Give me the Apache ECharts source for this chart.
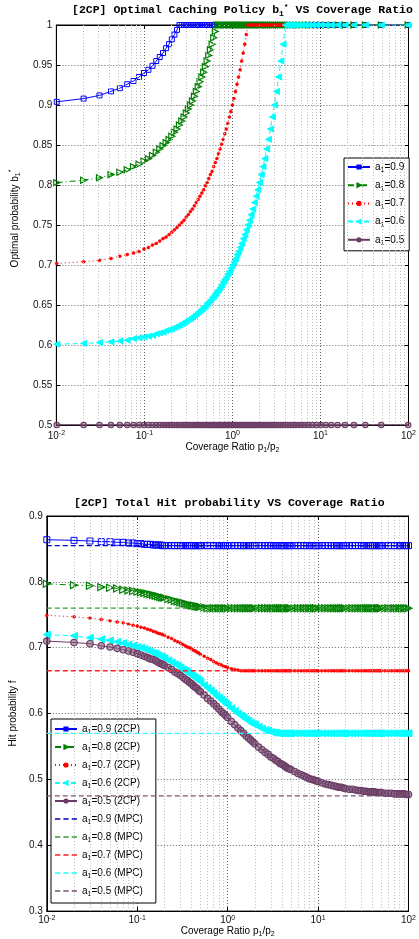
<!DOCTYPE html>
<html><head><meta charset="utf-8">
<script src="https://cdn.jsdelivr.net/npm/echarts@6/dist/echarts.min.js"></script>
<style>html,body{margin:0;padding:0;background:#fff}#c{width:419px;height:939px}</style>
</head><body><div id="c"></div>
<script>
// ---- Top plot: coverage ratio sample points ----
const xs = [0.0101,0.0204,0.0309,0.0417,0.0526,0.0638,0.0753,0.0870,0.0989,0.1111,
0.1236,0.1364,0.1494,0.1628,0.1765,0.1905,0.2048,0.2195,0.2346,0.25,
0.2658,0.2821,0.2987,0.3158,0.3333,0.3514,0.3699,0.3889,0.4085,0.4286,
0.4493,0.4706,0.4925,0.5152,0.5385,0.5625,0.5873,0.6129,0.6393,0.6667,
0.6949,0.7241,0.7544,0.7857,0.8182,0.8519,0.8868,0.9231,0.9608,1,
1.0408,1.0833,1.1277,1.1739,1.2222,1.2727,1.3256,1.381,1.439,1.5,
1.5641,1.6316,1.7027,1.7778,1.8571,1.9412,2.0303,2.125,2.2258,2.3333,
2.4483,2.5714,2.7037,2.8462,3,3.1667,3.3478,3.5455,3.7619,4,
4.2632,4.5556,4.8824,5.25,5.6667,6.1429,6.6923,7.3333,8.0909,9,
10.111,11.5,13.286,15.667,19,24,32.333,49,99];

// Top: optimal probability b1*
const b09 = [0.904,0.908,0.912,0.917,0.921,0.926,0.930,0.935,0.940,0.944,
0.949,0.955,0.960,0.965,0.971,0.976,0.982,0.988,0.994,1,
1,1,1,1,1,1,1,1,1,1, 1,1,1,1,1,1,1,1,1,1, 1,1,1,1,1,1,1,1,1,1,
1,1,1,1,1,1,1,1,1,1, 1,1,1,1,1,1,1,1,1,1, 1,1,1,1,1,1,1,1,1,1,
1,1,1,1,1,1,1,1,1,1, 1,1,1,1,1,1,1,1,1];
const b08 = [0.803,0.806,0.809,0.813,0.816,0.819,0.823,0.826,0.830,0.833,
0.837,0.841,0.845,0.849,0.853,0.857,0.861,0.866,0.870,0.875,
0.880,0.885,0.890,0.895,0.900,0.905,0.911,0.917,0.923,0.929,
0.935,0.941,0.948,0.955,0.962,0.969,0.976,0.984,0.992,1,
1,1,1,1,1,1,1,1,1,1, 1,1,1,1,1,1,1,1,1,1, 1,1,1,1,1,1,1,1,1,1,
1,1,1,1,1,1,1,1,1,1, 1,1,1,1,1,1,1,1,1,1, 1,1,1,1,1,1,1,1,1];
const b07 = [0.702,0.704,0.706,0.708,0.711,0.713,0.715,0.717,0.720,0.722,
0.725,0.727,0.730,0.733,0.735,0.738,0.741,0.744,0.747,0.750,
0.753,0.756,0.760,0.763,0.767,0.770,0.774,0.778,0.782,0.786,
0.790,0.794,0.799,0.803,0.808,0.813,0.817,0.823,0.828,0.833,
0.839,0.845,0.851,0.857,0.864,0.870,0.877,0.885,0.892,0.900,
0.908,0.917,0.926,0.935,0.944,0.955,0.965,0.976,0.988,1,
1,1,1,1,1,1,1,1,1,1, 1,1,1,1,1,1,1,1,1,1, 1,1,1,1,1,1,1,1,1,1, 1,1,1,1,1,1,1,1,1];
const b06 = [0.601,0.602,0.603,0.604,0.605,0.606,0.608,0.609,0.610,0.611,
0.612,0.614,0.615,0.616,0.618,0.619,0.620,0.622,0.623,0.625,
0.627,0.628,0.630,0.632,0.633,0.635,0.637,0.639,0.641,0.643,
0.645,0.647,0.649,0.652,0.654,0.656,0.659,0.661,0.664,0.667,
0.669,0.672,0.675,0.679,0.682,0.685,0.689,0.692,0.696,0.700,
0.704,0.708,0.713,0.717,0.722,0.727,0.733,0.738,0.744,0.750,
0.756,0.763,0.770,0.778,0.786,0.794,0.803,0.813,0.823,0.833,
0.845,0.857,0.870,0.885,0.900,0.917,0.935,0.955,0.976,1,
1,1,1,1,1,1,1,1,1,1, 1,1,1,1,1,1,1,1,1];
const b05 = [0.5,0.5,0.5,0.5,0.5,0.5,0.5,0.5,0.5,0.5, 0.5,0.5,0.5,0.5,0.5,0.5,0.5,0.5,0.5,0.5,
0.5,0.5,0.5,0.5,0.5,0.5,0.5,0.5,0.5,0.5, 0.5,0.5,0.5,0.5,0.5,0.5,0.5,0.5,0.5,0.5,
0.5,0.5,0.5,0.5,0.5,0.5,0.5,0.5,0.5,0.5, 0.5,0.5,0.5,0.5,0.5,0.5,0.5,0.5,0.5,0.5,
0.5,0.5,0.5,0.5,0.5,0.5,0.5,0.5,0.5,0.5, 0.5,0.5,0.5,0.5,0.5,0.5,0.5,0.5,0.5,0.5,
0.5,0.5,0.5,0.5,0.5,0.5,0.5,0.5,0.5,0.5, 0.5,0.5,0.5,0.5,0.5,0.5,0.5,0.5,0.5];

// ---- Bottom plot: coverage ratio sample points ----
const xs2 = [0.01,0.02,0.03,0.04,0.05,0.06,0.07,0.08,0.09,0.10,0.11,0.12,0.13,0.14,0.15,0.16,0.17,0.18,0.19,0.20,
0.22,0.24,0.26,0.28,0.30,0.32,0.34,0.36,0.38,0.40,0.42,0.44,0.46,0.48,0.50,
0.55,0.60,0.65,0.70,0.75,0.80,0.85,0.90,0.95,1.00,
1.1,1.2,1.3,1.4,1.5,1.6,1.7,1.8,1.9,2.0,
2.2,2.4,2.6,2.8,3.0,3.2,3.4,3.6,3.8,4.0,4.2,4.4,4.6,4.8,5.0,
5.5,6,6.5,7,7.5,8,8.5,9,9.5,10,
11,12,13,14,15,16,17,18,19,20,
22,24,26,28,30,32,34,36,38,40,42,44,46,48,50,
55,60,65,70,75,80,85,90,95,100];

// Bottom: total hit probability (2CP)
const f09 = [0.864,0.863,0.862,0.861,0.861,0.860,0.860,0.859,0.859,0.858,0.858,0.857,0.857,0.857,0.856,0.856,0.856,0.856,0.855,0.855,
0.855,0.855,0.855,0.855,0.855,0.855,0.855,0.855,0.855,0.855,0.855,0.855,0.855,0.855,0.855,
0.855,0.855,0.855,0.855,0.855,0.855,0.855,0.855,0.855,0.855,
0.855,0.855,0.855,0.855,0.855,0.855,0.855,0.855,0.855,0.855,
0.855,0.855,0.855,0.855,0.855,0.855,0.855,0.855,0.855,0.855,0.855,0.855,0.855,0.855,0.855,
0.855,0.855,0.855,0.855,0.855,0.855,0.855,0.855,0.855,0.855,
0.855,0.855,0.855,0.855,0.855,0.855,0.855,0.855,0.855,0.855,
0.855,0.855,0.855,0.855,0.855,0.855,0.855,0.855,0.855,0.855,0.855,0.855,0.855,0.855,0.855,
0.855,0.855,0.855,0.855,0.855,0.855,0.855,0.855,0.855,0.855];
const f08 = [0.797,0.795,0.794,0.792,0.791,0.790,0.788,0.787,0.786,0.785,0.784,0.783,0.782,0.781,0.780,0.779,0.778,0.777,0.776,0.776,
0.774,0.773,0.771,0.770,0.769,0.768,0.767,0.766,0.765,0.764,0.764,0.763,0.763,0.762,0.762,
0.761,0.760,0.760,0.760,0.760,0.760,0.760,0.760,0.760,0.760,
0.760,0.760,0.760,0.760,0.760,0.760,0.760,0.760,0.760,0.760,
0.760,0.760,0.760,0.760,0.760,0.760,0.760,0.760,0.760,0.760,0.760,0.760,0.760,0.760,0.760,
0.760,0.760,0.760,0.760,0.760,0.760,0.760,0.760,0.760,0.760,
0.760,0.760,0.760,0.760,0.760,0.760,0.760,0.760,0.760,0.760,
0.760,0.760,0.760,0.760,0.760,0.760,0.760,0.760,0.760,0.760,0.760,0.760,0.760,0.760,0.760,
0.760,0.760,0.760,0.760,0.760,0.760,0.760,0.760,0.760,0.760];
const f07 = [0.749,0.747,0.745,0.743,0.741,0.739,0.738,0.736,0.734,0.733,0.731,0.730,0.728,0.727,0.725,0.724,0.722,0.721,0.720,0.719,
0.716,0.714,0.711,0.709,0.707,0.705,0.703,0.701,0.700,0.698,0.696,0.695,0.693,0.692,0.690,
0.687,0.684,0.682,0.679,0.677,0.675,0.674,0.672,0.671,0.670,
0.668,0.667,0.666,0.665,0.665,0.665,0.665,0.665,0.665,0.665,
0.665,0.665,0.665,0.665,0.665,0.665,0.665,0.665,0.665,0.665,0.665,0.665,0.665,0.665,0.665,
0.665,0.665,0.665,0.665,0.665,0.665,0.665,0.665,0.665,0.665,
0.665,0.665,0.665,0.665,0.665,0.665,0.665,0.665,0.665,0.665,
0.665,0.665,0.665,0.665,0.665,0.665,0.665,0.665,0.665,0.665,0.665,0.665,0.665,0.665,0.665,
0.665,0.665,0.665,0.665,0.665,0.665,0.665,0.665,0.665,0.665];
const f06 = [0.720,0.718,0.715,0.713,0.711,0.709,0.707,0.705,0.703,0.701,0.700,0.698,0.696,0.694,0.692,0.691,0.689,0.687,0.686,0.684,
0.681,0.678,0.675,0.673,0.670,0.667,0.665,0.663,0.660,0.658,0.656,0.654,0.652,0.650,0.648,
0.643,0.639,0.635,0.631,0.627,0.624,0.621,0.618,0.615,0.613,
0.608,0.604,0.600,0.597,0.594,0.591,0.589,0.586,0.584,0.583,
0.580,0.577,0.575,0.574,0.572,0.571,0.571,0.570,0.570,0.570,0.570,0.570,0.570,0.570,0.570,
0.570,0.570,0.570,0.570,0.570,0.570,0.570,0.570,0.570,0.570,
0.570,0.570,0.570,0.570,0.570,0.570,0.570,0.570,0.570,0.570,
0.570,0.570,0.570,0.570,0.570,0.570,0.570,0.570,0.570,0.570,0.570,0.570,0.570,0.570,0.570,
0.570,0.570,0.570,0.570,0.570,0.570,0.570,0.570,0.570,0.570];
const f05 = [0.710,0.708,0.706,0.703,0.701,0.699,0.697,0.695,0.693,0.691,0.689,0.687,0.685,0.683,0.682,0.680,0.678,0.676,0.675,0.673,
0.670,0.667,0.663,0.661,0.658,0.655,0.652,0.650,0.647,0.645,0.642,0.640,0.638,0.635,0.633,
0.628,0.623,0.619,0.615,0.611,0.607,0.603,0.600,0.597,0.594,
0.588,0.583,0.578,0.574,0.570,0.566,0.563,0.560,0.557,0.554,
0.549,0.545,0.541,0.538,0.534,0.532,0.529,0.527,0.524,0.523,0.521,0.519,0.517,0.516,0.515,
0.512,0.509,0.507,0.505,0.503,0.501,0.500,0.499,0.498,0.497,
0.495,0.493,0.492,0.491,0.490,0.489,0.488,0.488,0.487,0.486,
0.485,0.485,0.484,0.483,0.483,0.482,0.482,0.481,0.481,0.481,0.481,0.480,0.480,0.480,0.480,
0.479,0.479,0.479,0.478,0.478,0.478,0.478,0.478,0.477,0.477];

// MPC constant hit probabilities
const mpcX = [0.01, 100];
const mpcVals = [0.855, 0.760, 0.665, 0.570, 0.475];

// Log-axis minor grid positions (2..9 x 10^k)
const minorGrid = [0.02,0.03,0.04,0.05,0.06,0.07,0.08,0.09,
0.2,0.3,0.4,0.5,0.6,0.7,0.8,0.9, 2,3,4,5,6,7,8,9, 20,30,40,50,60,70,80,90];

const topNames = ['a1=0.9','a1=0.8','a1=0.7','a1=0.6','a1=0.5'];
const botNames2 = ['a1=0.9 (2CP)','a1=0.8 (2CP)','a1=0.7 (2CP)','a1=0.6 (2CP)','a1=0.5 (2CP)'];
const botNamesM = ['a1=0.9 (MPC)','a1=0.8 (MPC)','a1=0.7 (MPC)','a1=0.6 (MPC)','a1=0.5 (MPC)'];

const SANS = "'Liberation Sans', Arial, Helvetica, sans-serif";
const MONO = "'Liberation Mono', 'DejaVu Sans Mono', 'Courier New', monospace";
const BLUE = '#0000ff', GREEN = '#008000', RED = '#ff0000', CYAN = '#00ffff', PURP = '#6b3a64';
const colors = [BLUE, GREEN, RED, CYAN, PURP];
const mpcColors = ['#0000cc', '#33a033', '#ff2020', '#20ffff', '#7a5476'];
const DASH_ICON = 'path://M0,0h5v1.3h-5z M8,0h5v1.3h-5z M16,0h5v1.3h-5z';

const styles = [
  {symbol:'rect', size:5, rot:0, fill:'rgba(0,0,0,0)', line:'solid', bw:1},
  {symbol:'triangle', size:6, rot:-90, fill:'rgba(0,0,0,0)', line:[6,3,1,3], bw:1.2},
  {symbol:'circle', size:3, rot:0, fill:RED, line:[1,3], bw:0.5},
  {symbol:'triangle', size:6, rot:90, fill:CYAN, line:[5,3], bw:1},
  {symbol:'circle', size:5.5, rot:0, fill:'rgba(125,88,120,0.55)', line:'solid', bw:1.1}
];

const richSub = {
  t:{fontSize:10, fontFamily:SANS, color:'#000', lineHeight:14},
  s:{fontSize:7, fontFamily:SANS, color:'#000', lineHeight:7, verticalAlign:'bottom'},
  p:{fontSize:7, fontFamily:SANS, color:'#000', lineHeight:7, verticalAlign:'top'}
};

function legendFmt(n){ return '{t|a}{s|1}{t|' + n.slice(2) + '}'; }

function mainX(gi, margin, gap){
  return {type:'log', logBase:10, gridIndex:gi, min:0.01, max:100, splitNumber:4,
    axisLine:{show:true, onZero:false, lineStyle:{color:'#000', width:1}},
    axisTick:{show:true, inside:true, length:4, lineStyle:{color:'#000'}},
    axisLabel:{margin:margin, formatter:function(v){return '{b|10}{p|' + Math.round(Math.log10(v)) + '}';},
      rich:{b:{fontSize:10, fontFamily:SANS, color:'#111', lineHeight:12},
            p:{fontSize:7, fontFamily:SANS, color:'#111', lineHeight:7, verticalAlign:'top'}}},
    splitLine:{show:true, lineStyle:{type:[1,2], color:'#666', width:1}},
    name:'{t|Coverage Ratio p}{s|1}{t|/p}{s|2}', nameLocation:'middle', nameGap:gap,
    nameTextStyle:{rich:richSub}
  };
}
function topX(gi){
  return {type:'log', logBase:10, gridIndex:gi, min:0.01, max:100, splitNumber:4, position:'top',
    axisLine:{show:true, onZero:false, lineStyle:{color:'#000'}},
    axisTick:{show:true, inside:true, length:4, lineStyle:{color:'#000'}},
    axisLabel:{show:false}, splitLine:{show:false}};
}
function mainY(gi, min, max, iv, name, gap, pad){
  return {type:'value', gridIndex:gi, min:min, max:max, interval:iv,
    axisLine:{show:true, onZero:false, lineStyle:{color:'#000', width:1}},
    axisTick:{show:true, inside:true, length:4, lineStyle:{color:'#000'}},
    axisLabel:{margin:4, fontSize:10, fontFamily:SANS, color:'#111'},
    splitLine:{show:true, lineStyle:{type:[1,2], color:'#666', width:1}},
    name:name, nameLocation:'middle', nameGap:gap, nameTextStyle:{rich:richSub, padding:pad}
  };
}
function rightY(gi, min, max, iv){
  return {type:'value', gridIndex:gi, min:min, max:max, interval:iv, position:'right',
    axisLine:{show:true, onZero:false, lineStyle:{color:'#000'}},
    axisTick:{show:true, inside:true, length:4, lineStyle:{color:'#000'}},
    axisLabel:{show:false}, splitLine:{show:false}};
}

function gridHelper(ax){
  return {type:'line', name:'_grid'+ax, xAxisIndex:ax, yAxisIndex:ax, data:[], silent:true, z:1,
    markLine:{silent:true, symbol:['none','none'], label:{show:false}, animation:false,
      lineStyle:{type:[1,2], color:'#bdbdbd', width:1},
      data:minorGrid.map(function(v){return {xAxis:v};})}};
}

function curve(name, ax, xv, arr, k, grow){
  const st = styles[k];
  return {type:'line', name:name, xAxisIndex:ax, yAxisIndex:ax,
    data: xv.map(function(x,i){return [x, arr[i]];}),
    showSymbol:true, showAllSymbol:true, symbol:st.symbol, symbolSize:st.size + (k === 2 ? 0 : grow), symbolRotate:st.rot,
    itemStyle:{color:st.fill, borderColor:colors[k], borderWidth:st.bw},
    lineStyle:{color:colors[k], width:1, type:st.line}, z:2+k};
}

const series = [gridHelper(0), gridHelper(1)];
[b09, b08, b07, b06, b05].forEach(function(arr, k){ series.push(curve(topNames[k], 0, xs, arr, k, 0)); });
[f09, f08, f07, f06, f05].forEach(function(arr, k){ series.push(curve(botNames2[k], 1, xs2, arr, k, 1)); });
mpcVals.forEach(function(v, k){
  series.push({type:'line', name:botNamesM[k], xAxisIndex:1, yAxisIndex:1,
    data: mpcX.map(function(x){return [x, v];}), showSymbol:false, symbol:'none',
    itemStyle:{color:mpcColors[k]},
    lineStyle:{color:mpcColors[k], width:1.3, type:[5,3]}, z:8});
});

const titleRich = {
  m:{fontFamily:MONO, fontWeight:'bold', fontSize:11.5, color:'#000', lineHeight:15},
  s:{fontFamily:MONO, fontWeight:'bold', fontSize:8, color:'#000', lineHeight:8, verticalAlign:'bottom'},
  p:{fontFamily:MONO, fontWeight:'bold', fontSize:8, color:'#000', lineHeight:8, verticalAlign:'top'}
};

const option = {
  animation:false,
  backgroundColor:'#fff',
  title:[
    {text:'{m|[2CP] Optimal Caching Policy b}{s|1}{p|*}{m| VS Coverage Ratio}', left:72, top:3, padding:0, textStyle:{rich:titleRich}},
    {text:'{m|[2CP] Total Hit probability VS Coverage Ratio}', left:74, top:496, padding:0, textStyle:{rich:titleRich}}
  ],
  grid:[
    {left:48, top:25, width:364, height:400, show:true, borderColor:'#000', borderWidth:1, backgroundColor:'#fff'},
    {left:43, top:516, width:373, height:396, show:true, borderColor:'#000', borderWidth:1, backgroundColor:'#fff'}
  ],
  xAxis:[mainX(0, 5, 12), mainX(1, 3, 12), topX(0), topX(1)],
  yAxis:[
    mainY(0, 0.5, 1, 0.05, '{t|Optimal probability b}{s|1}{p|*}', 20, [0,0,0,13]),
    mainY(1, 0.3, 0.9, 0.1, '{t|Hit probability f}', 16, 0),
    rightY(0, 0.5, 1, 0.05), rightY(1, 0.3, 0.9, 0.1)
  ],
  legend:[
    {data:topNames, orient:'vertical', left:344, top:158, padding:[4,5,4,3], itemGap:6.2,
     itemWidth:22, itemHeight:4, backgroundColor:'#fff', borderColor:'#000', borderWidth:1,
     selectedMode:false, formatter:legendFmt, textStyle:{rich:richSub}},
    {data:botNames2.concat(botNamesM.map(function(n){return {name:n, icon:DASH_ICON};})),
     orient:'vertical', left:51, top:719, padding:[5,13,5,3], itemGap:6,
     itemWidth:22, itemHeight:4, backgroundColor:'#fff', borderColor:'#000', borderWidth:1,
     selectedMode:false, formatter:legendFmt, textStyle:{rich:richSub}}
  ],
  series:series
};

const chart = echarts.init(document.getElementById('c'), null, {renderer:'canvas'});
chart.setOption(option);
</script>
</body></html>
